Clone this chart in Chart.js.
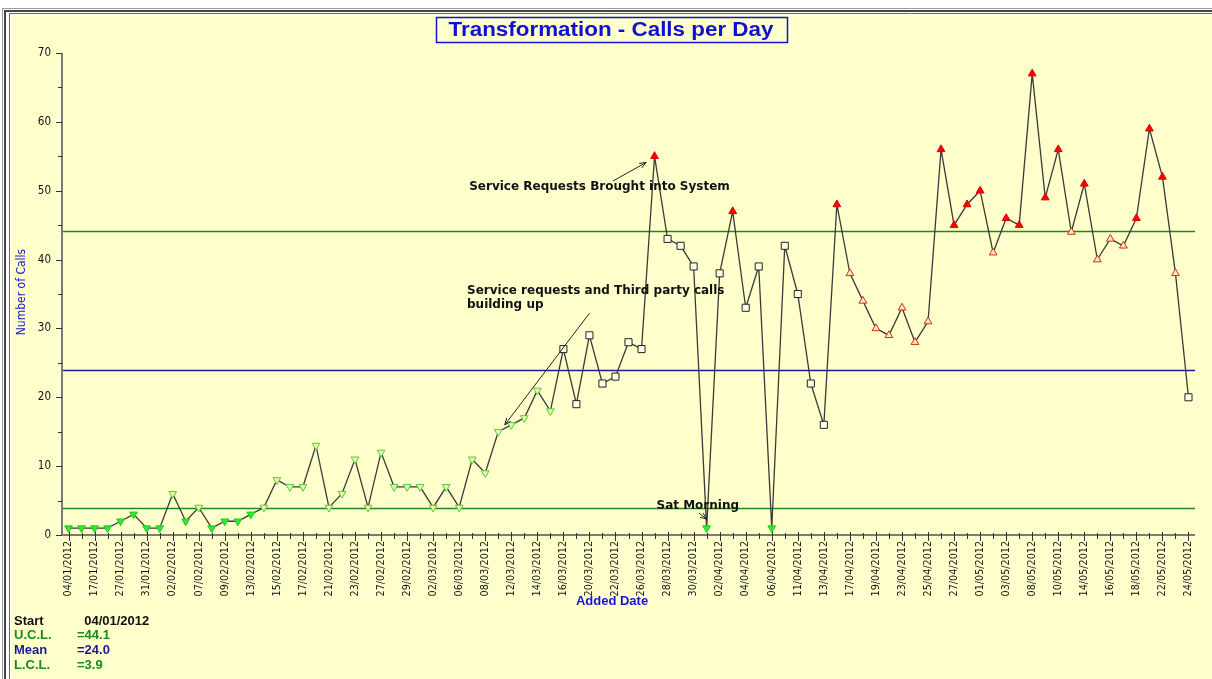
<!DOCTYPE html>
<html>
<head>
<meta charset="utf-8">
<script src="https://cdn.jsdelivr.net/npm/chart.js@4/dist/chart.umd.min.js"></script>
<style>
html,body{margin:0;padding:0;background:#fff;}
canvas{display:block;}
</style>
</head>
<body>
<canvas id="c" width="1212" height="679"></canvas>
<script>
// ---- data ----
const dateLabels = ["04/01/2012","17/01/2012","27/01/2012","31/01/2012","02/02/2012","07/02/2012","09/02/2012","13/02/2012","15/02/2012","17/02/2012","21/02/2012","23/02/2012","27/02/2012","29/02/2012","02/03/2012","06/03/2012","08/03/2012","12/03/2012","14/03/2012","16/03/2012","20/03/2012","22/03/2012","26/03/2012","28/03/2012","30/03/2012","02/04/2012","04/04/2012","06/04/2012","11/04/2012","13/04/2012","17/04/2012","19/04/2012","23/04/2012","25/04/2012","27/04/2012","01/05/2012","03/05/2012","08/05/2012","10/05/2012","14/05/2012","16/05/2012","18/05/2012","22/05/2012","24/05/2012"];
const calls = [1,1,1,1,2,3,1,1,6,2,4,1,2,2,3,4,8,7,7,13,4,6,11,4,12,7,7,7,4,7,4,11,9,15,16,17,21,18,27,19,29,22,23,28,27,55,43,42,39,1,38,47,33,39,1,42,35,22,16,48,38,34,30,29,33,28,31,56,45,48,50,41,46,45,67,49,56,44,51,40,43,42,46,59,52,38,20];
const yTicks = [0,10,20,30,40,50,60,70];
const UCL = 44.1, MEAN = 24.0, LCL = 3.9;
const lowRun = [0, 37];    // run below mean (green markers)
const highRun = [60, 85];  // run above mean (red markers)

// category labels: one date label every second point
const labels = calls.map((v, i) => (i % 2 === 0 ? dateLabels[i / 2] : ''));

const NARROW = "'Liberation Sans Narrow', 'DejaVu Sans Condensed', 'Arial Narrow', sans-serif";
const ARIAL = "'Liberation Sans', Arial, sans-serif";
const WIDE = "'DejaVu Sans', Verdana, sans-serif";
const BG = '#FFFFCC';

function markerKind(v, i) {
  if (i >= lowRun[0] && i <= lowRun[1]) return v < LCL ? 'gFill' : 'gHollow';
  if (i >= highRun[0] && i <= highRun[1]) return v > UCL ? 'rFill' : 'rHollow';
  if (v > UCL) return 'rFill';
  if (v < LCL) return 'gFill';
  return 'sq';
}
const kinds = calls.map(markerKind);
const styleOf = {
  gFill:   {style:'triangle', rot:180, bg:'#33E633', bd:'#22CC22', r:4.5},
  gHollow: {style:'triangle', rot:180, bg:'#E4F9A8', bd:'#55CC44', r:4.5},
  rFill:   {style:'triangle', rot:0,   bg:'#FF0000', bd:'#E00000', r:4.5},
  rHollow: {style:'triangle', rot:0,   bg:'#FFE6B8', bd:'#CC3020', r:4.5},
  sq:      {style:'rect',     rot:0,   bg:'#FFFFE8', bd:'#222222', r:5}
};

function P(chart, idx, val) {
  return [chart.scales.x.getPixelForValue(idx), chart.scales.y.getPixelForValue(val)];
}
function arrow(ctx, x1, y1, x2, y2) {
  ctx.beginPath(); ctx.moveTo(x1, y1); ctx.lineTo(x2, y2); ctx.stroke();
  const a = Math.atan2(y2 - y1, x2 - x1), L = 7, w = 0.38;
  ctx.beginPath();
  ctx.moveTo(x2 - L * Math.cos(a - w), y2 - L * Math.sin(a - w));
  ctx.lineTo(x2, y2);
  ctx.lineTo(x2 - L * Math.cos(a + w), y2 - L * Math.sin(a + w));
  ctx.stroke();
}

const decor = {
  id: 'decor',
  beforeDraw(chart) {
    const ctx = chart.ctx, W = chart.width, H = chart.height;
    ctx.save();
    ctx.fillStyle = '#FFFFFF'; ctx.fillRect(0, 0, W, H);
    ctx.fillStyle = BG; ctx.fillRect(11, 13, W - 11, H - 13);
    // frame
    ctx.strokeStyle = '#9a9a9a'; ctx.lineWidth = 1;
    ctx.beginPath(); ctx.moveTo(2.5, H); ctx.lineTo(2.5, 8.5); ctx.lineTo(W, 8.5); ctx.stroke();
    ctx.strokeStyle = '#444'; ctx.lineWidth = 2;
    ctx.beginPath(); ctx.moveTo(5, H); ctx.lineTo(5, 11); ctx.lineTo(W, 11); ctx.stroke();
    ctx.strokeStyle = '#666'; ctx.lineWidth = 1;
    ctx.beginPath(); ctx.moveTo(9.5, H); ctx.lineTo(9.5, 13.5); ctx.lineTo(W, 13.5); ctx.stroke();
    // title box
    const t = 'Transformation - Calls per Day';
    ctx.font = "bold 20px " + ARIAL;
    const tw = ctx.measureText(t).width;
    const target = 330, sx = Math.min(1.12, target / tw);
    const cx = 611, cy = 29;
    ctx.strokeStyle = '#1010E0'; ctx.lineWidth = 1.5;
    ctx.strokeRect(436.5, 17.5, 351, 25);
    ctx.fillStyle = '#1010D0'; ctx.textAlign = 'center'; ctx.textBaseline = 'middle';
    ctx.save();
    ctx.translate(cx, cy + 1); ctx.scale(sx, 1);
    ctx.fillText(t, 0, 0);
    ctx.restore();
    ctx.restore();
  },
  beforeDatasetsDraw(chart) {
    const ctx = chart.ctx, a = chart.chartArea, x = chart.scales.x, y = chart.scales.y;
    ctx.save();
    // control lines
    [[UCL, '#1A8A1A'], [MEAN, '#1A1AA0'], [LCL, '#1A8A1A']].forEach(([v, c]) => {
      const py = Math.round(y.getPixelForValue(v)) + 0.5;
      ctx.strokeStyle = c; ctx.lineWidth = 1.6;
      ctx.beginPath(); ctx.moveTo(a.left, py); ctx.lineTo(a.right, py); ctx.stroke();
    });
    // axes
    ctx.strokeStyle = '#7a7a7a'; ctx.lineWidth = 2;
    ctx.beginPath(); ctx.moveTo(a.left, a.top); ctx.lineTo(a.left, a.bottom); ctx.lineTo(a.right, a.bottom); ctx.stroke();
    ctx.strokeStyle = '#333'; ctx.lineWidth = 1;
    // y ticks every 5
    for (let v = 0; v <= 70; v += 5) {
      const py = Math.round(y.getPixelForValue(v)) + 0.5;
      const len = v % 10 === 0 ? 6 : 4;
      ctx.beginPath(); ctx.moveTo(a.left - len, py); ctx.lineTo(a.left, py); ctx.stroke();
    }
    // x ticks every point
    calls.forEach((v, i) => {
      const px = Math.round(x.getPixelForValue(i)) + 0.5;
      const major = i % 2 === 0;
      ctx.beginPath();
      ctx.moveTo(px, a.bottom - (major ? 3 : 2));
      ctx.lineTo(px, a.bottom + (major ? 6 : 4));
      ctx.stroke();
    });
    ctx.restore();
  },
  afterDraw(chart) {
    const ctx = chart.ctx;
    ctx.save();
    ctx.fillStyle = '#111'; ctx.strokeStyle = '#222'; ctx.lineWidth = 1;
    ctx.font = "bold 12px " + WIDE; ctx.textAlign = 'left'; ctx.textBaseline = 'middle';
    let p = P(chart, 30.77, 50.5);
    ctx.fillText('Service Requests Brought into System', p[0], p[1]);
    let p1 = P(chart, 41.8, 51.4), p2 = P(chart, 44.35, 54.1);
    arrow(ctx, p1[0], p1[1], p2[0], p2[1]);
    p = P(chart, 30.6, 35.5);
    ctx.fillText('Service requests and Third party calls', p[0], p[1]);
    p = P(chart, 30.6, 33.4);
    ctx.fillText('building up', p[0], p[1]);
    p1 = P(chart, 40.0, 32.2); p2 = P(chart, 33.5, 16.0);
    arrow(ctx, p1[0], p1[1], p2[0], p2[1]);
    p = P(chart, 45.15, 4.2);
    ctx.fillText('Sat Morning', p[0], p[1]);
    p1 = P(chart, 48.4, 3.2); p2 = P(chart, 49.0, 2.3);
    arrow(ctx, p1[0], p1[1], p2[0], p2[1]);

    // axis titles
    ctx.fillStyle = '#1515D0';
    ctx.font = "bold 13px " + ARIAL; ctx.textAlign = 'center';
    ctx.fillText('Added Date', 612, 601);
    ctx.save();
    ctx.translate(22, 292); ctx.rotate(-Math.PI / 2);
    ctx.font = "12px " + NARROW; ctx.fillStyle = '#1515D0';
    ctx.fillText('Number of Calls', 0, 0);
    ctx.restore();

    // stats block
    ctx.textAlign = 'left'; ctx.font = "bold 13px " + ARIAL;
    const rows = [
      ['Start', '  04/01/2012', '#111111'],
      ['U.C.L.', '=' + UCL.toFixed(1), '#1A8A1A'],
      ['Mean', '=' + MEAN.toFixed(1), '#1A1A90'],
      ['L.C.L.', '=' + LCL.toFixed(1), '#1A8A1A']
    ];
    rows.forEach((r, k) => {
      ctx.fillStyle = r[2];
      const yy = 621 + k * 14.7;
      ctx.fillText(r[0], 14, yy);
      ctx.fillText(r[1], 77, yy);
    });
    ctx.restore();
  }
};

new Chart(document.getElementById('c'), {
  type: 'line',
  data: {
    labels: labels,
    datasets: [{
      data: calls,
      borderColor: '#3a3a3a',
      borderWidth: 1.3,
      tension: 0,
      pointStyle: kinds.map(k => styleOf[k].style),
      pointRotation: kinds.map(k => styleOf[k].rot),
      pointBackgroundColor: kinds.map(k => styleOf[k].bg),
      pointBorderColor: kinds.map(k => styleOf[k].bd),
      pointRadius: kinds.map(k => styleOf[k].r),
      pointBorderWidth: 1
    }]
  },
  options: {
    responsive: false,
    animation: false,
    devicePixelRatio: 1,
    layout: {padding: {top: 53, right: 17, bottom: 0, left: 0}},
    plugins: {legend: {display: false}, tooltip: {enabled: false}, title: {display: false}},
    scales: {
      x: {
        type: 'category',
        offset: true,
        grid: {display: false, drawTicks: false},
        border: {display: false},
        ticks: {
          autoSkip: false, maxRotation: 90, minRotation: 90, padding: 6,
          color: '#111', font: {family: NARROW, size: 10.7},
          callback: (v, i) => labels[i]
        },
        afterFit: s => { s.height = 144; }
      },
      y: {
        min: 0, max: 70,
        grid: {display: false, drawTicks: false},
        border: {display: false},
        afterBuildTicks: s => { s.ticks = yTicks.map(v => ({value: v})); },
        ticks: {padding: 11, color: '#111', font: {family: NARROW, size: 11.5}},
        afterFit: s => { s.width = 62; }
      }
    }
  },
  plugins: [decor]
});
</script>
</body>
</html>
